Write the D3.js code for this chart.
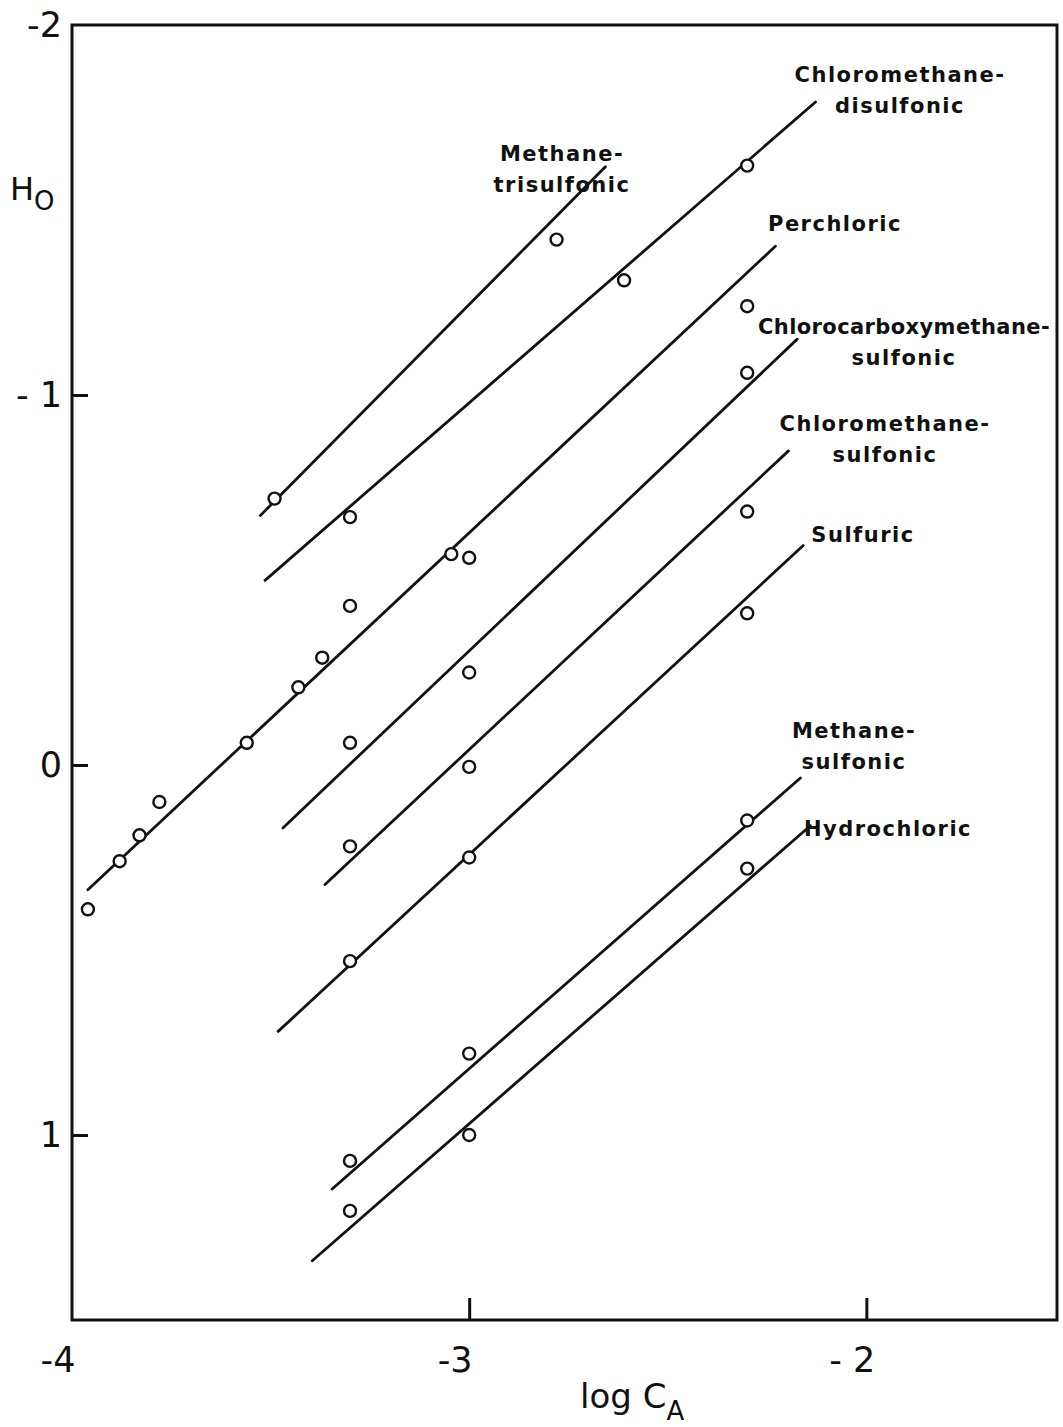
<!DOCTYPE html>
<html>
<head>
<meta charset="utf-8">
<script src="https://cdn.jsdelivr.net/npm/d3@7"></script>
<style>
  html, body { margin: 0; padding: 0; background: #fff; }
  svg { display: block; }
  .lbl { font-family: "DejaVu Sans", sans-serif; font-weight: bold; font-size: 21px; letter-spacing: 1.5px; fill: #111; }
  .tick { font-family: "DejaVu Sans", sans-serif; font-size: 35px; fill: #111; }
</style>
</head>
<body>
<script>
// ---------- data ----------
const xTickValues = [-4, -3, -2];
const yTickValues = [-2, -1, 0, 1];
const xTickLabels = ["-4", "-3", "- 2"];
const yTickLabels = ["-2", "- 1", "0", "1"];

const seriesNames = ["Methanetrisulfonic", "Chloromethanedisulfonic", "Perchloric",
  "Chlorocarboxymethanesulfonic", "Chloromethanesulfonic", "Sulfuric", "Methanesulfonic", "Hydrochloric"];

// measured points (log C_A, H0)
const trisulfonicX = [-3.49, -2.78];
const trisulfonicH = [-0.72, -1.42];
const disulfonicX = [-3.30, -2.61, -2.30];
const disulfonicH = [-0.67, -1.31, -1.62];
const perchloricX = [-3.96, -3.88, -3.83, -3.78, -3.56, -3.43, -3.37, -3.30, -3.045, -3.00, -2.30];
const perchloricH = [0.39, 0.26, 0.19, 0.10, -0.06, -0.21, -0.29, -0.43, -0.57, -0.56, -1.24];
const chlorocarboxyX = [-3.30, -3.00, -2.30];
const chlorocarboxyH = [-0.06, -0.25, -1.06];
const chloromethaneX = [-3.30, -3.00, -2.30];
const chloromethaneH = [0.22, 0.005, -0.685];
const sulfuricX = [-3.30, -3.00, -2.30];
const sulfuricH = [0.53, 0.25, -0.41];
const methanesulfonicX = [-3.30, -3.00, -2.30];
const methanesulfonicH = [1.07, 0.78, 0.15];
const hydrochloricX = [-3.30, -3.00, -2.30];
const hydrochloricH = [1.205, 1.00, 0.28];

// drawn lines: [start log C, end log C], [start H0, end H0]
const trisulfonicLineX = [-3.526, -2.657];
const trisulfonicLineH = [-0.674, -1.617];
const disulfonicLineX = [-3.514, -2.128];
const disulfonicLineH = [-0.499, -1.792];
const perchloricLineX = [-3.960, -2.229];
const perchloricLineH = [0.337, -1.402];
const chlorocarboxyLineX = [-3.469, -2.174];
const chlorocarboxyLineH = [0.170, -1.151];
const chloromethaneLineX = [-3.363, -2.196];
const chloromethaneLineH = [0.323, -0.849];
const sulfuricLineX = [-3.481, -2.159];
const sulfuricLineH = [0.720, -0.593];
const methanesulfonicLineX = [-3.345, -2.166];
const methanesulfonicLineH = [1.146, 0.035];
const hydrochloricLineX = [-3.395, -2.141];
const hydrochloricLineH = [1.340, 0.164];

// label text lines
const labelTexts = [
  ["Methane-", "trisulfonic"],
  ["Chloromethane-", "disulfonic"],
  ["Perchloric"],
  ["Chlorocarboxymethane-", "sulfonic"],
  ["Chloromethane-", "sulfonic"],
  ["Sulfuric"],
  ["Methane-", "sulfonic"],
  ["Hydrochloric"]
];

// ---------- layout ----------
const W = 1063, H = 1427;
const margin = { left: 72, right: 6, top: 25, bottom: 107 };
const xDomain = [-4, -1.52];
const yDomain = [-2, 1.5];

const svg = d3.select("body").append("svg").attr("width", W).attr("height", H);

const x = d3.scaleLinear().domain(xDomain).range([margin.left, W - margin.right]);
const y = d3.scaleLinear().domain(yDomain).range([margin.top, H - margin.bottom]);

const ptsX = [trisulfonicX, disulfonicX, perchloricX, chlorocarboxyX, chloromethaneX, sulfuricX, methanesulfonicX, hydrochloricX];
const ptsH = [trisulfonicH, disulfonicH, perchloricH, chlorocarboxyH, chloromethaneH, sulfuricH, methanesulfonicH, hydrochloricH];
const lnX = [trisulfonicLineX, disulfonicLineX, perchloricLineX, chlorocarboxyLineX, chloromethaneLineX, sulfuricLineX, methanesulfonicLineX, hydrochloricLineX];
const lnH = [trisulfonicLineH, disulfonicLineH, perchloricLineH, chlorocarboxyLineH, chloromethaneLineH, sulfuricLineH, methanesulfonicLineH, hydrochloricLineH];

// label anchor positions (pixel, centre of text block; first baseline)
const labelAnchors = [
  [562, 161], [900, 82], [835, 231], [904, 334], [885, 431], [863, 542], [854, 738], [888, 836]
];
const labelLineGap = 31;

// frame
svg.append("rect")
  .attr("x", x(xDomain[0])).attr("y", y(yDomain[0]))
  .attr("width", x(xDomain[1]) - x(xDomain[0]))
  .attr("height", y(yDomain[1]) - y(yDomain[0]))
  .attr("fill", "none").attr("stroke", "#111").attr("stroke-width", 3);

// axes ticks (inward) using d3 axes
const yAxis = d3.axisLeft(y).tickValues([-1, 0, 1]).tickSizeInner(-16).tickSizeOuter(0).tickFormat("");
const gy = svg.append("g").attr("transform", `translate(${x(xDomain[0])},0)`).call(yAxis);
gy.select(".domain").remove();
gy.selectAll(".tick line").attr("stroke", "#111").attr("stroke-width", 3);

const xAxis = d3.axisBottom(x).tickValues([-3, -2]).tickSizeInner(-22).tickSizeOuter(0).tickFormat("");
const gx = svg.append("g").attr("transform", `translate(0,${y(yDomain[1])})`).call(xAxis);
gx.select(".domain").remove();
gx.selectAll(".tick line").attr("stroke", "#111").attr("stroke-width", 3);

// tick labels
svg.selectAll(".ylab").data(yTickValues).enter().append("text")
  .attr("class", "tick")
  .attr("x", x(xDomain[0]) - 10)
  .attr("y", d => y(d) + 12)
  .attr("text-anchor", "end")
  .text((d, i) => yTickLabels[i]);

svg.selectAll(".xlab").data(xTickValues).enter().append("text")
  .attr("class", "tick")
  .attr("x", d => x(d) - 14)
  .attr("y", y(yDomain[1]) + 52)
  .attr("text-anchor", "middle")
  .text((d, i) => xTickLabels[i]);

// axis titles
const yt = svg.append("text").attr("class", "tick").attr("x", 10).attr("y", 200).style("font-size", "32px");
yt.append("tspan").text("H");
yt.append("tspan").attr("dy", 10).style("font-size", "26px").text("O");

const xt = svg.append("text").attr("class", "tick").attr("x", 580).attr("y", 1408).style("font-size", "34px");
xt.append("tspan").text("log C");
xt.append("tspan").attr("dy", 12).style("font-size", "26px").text("A");

// fitted lines
seriesNames.forEach((name, i) => {
  svg.append("line")
    .attr("x1", x(lnX[i][0])).attr("y1", y(lnH[i][0]))
    .attr("x2", x(lnX[i][1])).attr("y2", y(lnH[i][1]))
    .attr("stroke", "#111").attr("stroke-width", 2.8).attr("stroke-linecap", "round");
});

// points
seriesNames.forEach((name, i) => {
  const pts = ptsX[i].map((v, j) => [v, ptsH[i][j]]);
  svg.append("g").selectAll("circle").data(pts).enter().append("circle")
    .attr("cx", d => x(d[0])).attr("cy", d => y(d[1]))
    .attr("r", 6)
    .attr("fill", "#fff").attr("stroke", "#111").attr("stroke-width", 2.4);
});

// labels
labelTexts.forEach((lines, i) => {
  const t = svg.append("text").attr("class", "lbl").attr("text-anchor", "middle");
  lines.forEach((s, k) => {
    const sp = t.append("tspan").attr("x", labelAnchors[i][0]).attr("y", labelAnchors[i][1] + k * labelLineGap).text(s);
    if (s.length > 18) sp.style("letter-spacing", "0.4px");
  });
});
</script>
</body>
</html>
